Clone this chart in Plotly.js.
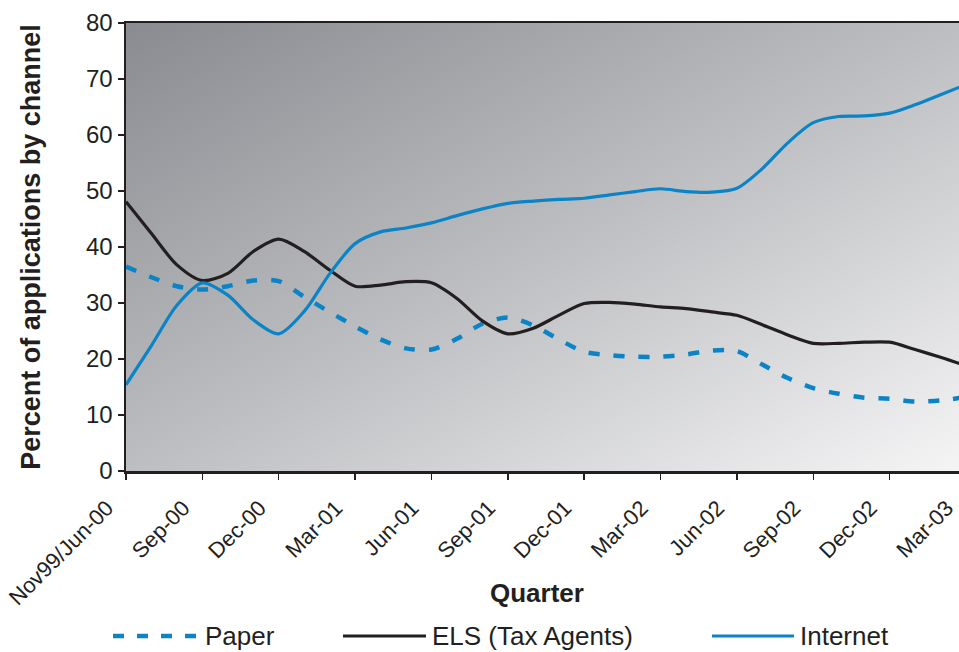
<!DOCTYPE html>
<html>
<head>
<meta charset="utf-8">
<script src="https://cdn.plot.ly/plotly-3.0.1.min.js"></script>
<style>
  html, body { margin: 0; padding: 0; overflow: hidden; background: #ffffff; }
  #chart { width: 968px; height: 652px; }
</style>
</head>
<body>
<div id="chart"></div>
<script>
// Months since Jun-00 (quarter ticks every 3 months)
const months = [0,1,2,3,4,5,6,7,8,9,10,11,12,13,14,15,16,17,18,19,20,21,22,23,24,25,26,27,28,29,30,31,32,33];

const quarterTickMonths = [0,3,6,9,12,15,18,21,24,27,30,33];
const quarterLabels = ["Nov99/Jun-00","Sep-00","Dec-00","Mar-01","Jun-01","Sep-01","Dec-01","Mar-02","Jun-02","Sep-02","Dec-02","Mar-03"];

const paper = [36.5,34.6,33.0,32.4,33.0,34.0,33.9,31.1,28.4,25.8,23.5,21.9,21.7,23.6,26.3,27.4,26.0,23.5,21.3,20.7,20.4,20.4,20.8,21.5,21.4,19.0,16.6,14.8,13.8,13.1,12.9,12.4,12.6,13.2];
const els = [48.1,42.4,36.8,34.0,35.3,39.2,41.4,39.2,35.9,33.0,33.2,33.8,33.6,30.8,26.8,24.5,25.5,27.8,29.9,30.1,29.8,29.3,29.0,28.4,27.8,26.1,24.3,22.8,22.8,23.0,23.0,21.7,20.3,18.8];
const internet = [15.4,22.4,29.6,33.6,31.4,27.0,24.5,28.5,35.2,40.6,42.7,43.4,44.3,45.6,46.8,47.8,48.2,48.5,48.7,49.3,49.9,50.4,49.9,49.8,50.5,54.0,58.6,62.2,63.3,63.4,63.9,65.4,67.2,69.0];

const seriesNames = ["Paper","ELS (Tax Agents)","Internet"];
const xTitle = "Quarter";
const yTitle = "Percent of applications by channel";

const BLUE = "#0a84c6";
const DARK = "#231f20";
const FONT = "Liberation Sans, Arial, Helvetica, sans-serif";

const traces = [
  {x: months, y: paper, name: seriesNames[0], type: "scatter", mode: "lines",
   line: {color: BLUE, width: 4.5, dash: "11px,14px", shape: "spline", smoothing: 0.8}, showlegend: false},
  {x: months, y: els, name: seriesNames[1], type: "scatter", mode: "lines",
   line: {color: DARK, width: 3.2, shape: "spline", smoothing: 0.8}, showlegend: false},
  {x: months, y: internet, name: seriesNames[2], type: "scatter", mode: "lines",
   line: {color: BLUE, width: 3.2, shape: "spline", smoothing: 0.8}, showlegend: false}
];

const gradSvg = "<svg xmlns='http://www.w3.org/2000/svg' width='200' height='200' preserveAspectRatio='none' viewBox='0 0 200 200'>" +
  "<defs><linearGradient id='g' x1='0' y1='0' x2='1' y2='1'>" +
  "<stop offset='0' stop-color='#8a8b90'/><stop offset='0.5' stop-color='#bdbec1'/><stop offset='1' stop-color='#f5f5f6'/>" +
  "</linearGradient></defs><rect width='200' height='200' fill='url(#g)'/></svg>";

// legend geometry (page pixels -> paper coords)
const L = 126, PW = 840, TOPY = 23, PH = 448;
const px = v => (v - L) / PW;
const py = v => (TOPY + PH - v) / PH;
const legY = 636;

const legendShapes = [
  {type: "line", xref: "paper", yref: "paper", x0: px(113), x1: px(199), y0: py(legY), y1: py(legY),
   line: {color: BLUE, width: 4.5, dash: "11px,13px"}},
  {type: "line", xref: "paper", yref: "paper", x0: px(343), x1: px(426), y0: py(legY), y1: py(legY),
   line: {color: DARK, width: 3.2}},
  {type: "line", xref: "paper", yref: "paper", x0: px(712), x1: px(794), y0: py(legY), y1: py(legY),
   line: {color: BLUE, width: 3.2}}
];
const legendAnn = [
  {text: seriesNames[0], x: px(203), y: py(legY)},
  {text: seriesNames[1], x: px(430), y: py(legY)},
  {text: seriesNames[2], x: px(798), y: py(legY)}
].map(a => Object.assign(a, {xref: "paper", yref: "paper", xanchor: "left", yanchor: "middle",
  showarrow: false, font: {family: FONT, size: 26, color: DARK}}));

const titleAnn = {text: "<b>" + xTitle + "</b>", xref: "paper", yref: "paper", x: px(537), y: py(593),
  xanchor: "center", yanchor: "middle", showarrow: false, font: {family: FONT, size: 26, color: DARK}};

const layout = {
  width: 968, height: 652,
  margin: {l: 126, r: 2, t: 23, b: 181, pad: 0},
  paper_bgcolor: "#ffffff",
  plot_bgcolor: "rgba(0,0,0,0)",
  font: {family: FONT, color: DARK},
  showlegend: false,
  images: [{source: "data:image/svg+xml;base64," + btoa(gradSvg), xref: "paper", yref: "paper",
    x: 0, y: 1, sizex: 1, sizey: 1, sizing: "stretch", xanchor: "left", yanchor: "top", layer: "below"}],
  xaxis: {
    range: [0, 33.001], tickmode: "array", tickvals: quarterTickMonths, ticktext: quarterLabels,
    tickangle: -45, tickfont: {family: FONT, size: 22, color: DARK},
    ticklabelstandoff: 7, ticklabelshift: -19, ticklabeloverflow: "allow",
    ticks: "outside", ticklen: 6, tickwidth: 1.5, tickcolor: DARK,
    showline: true, linecolor: DARK, linewidth: 2.5, mirror: true,
    showgrid: false, zeroline: false, fixedrange: true
  },
  yaxis: {
    range: [0, 80], tickmode: "array", tickvals: [0,10,20,30,40,50,60,70,80],
    tickfont: {family: FONT, size: 24, color: DARK},
    ticks: "outside", ticklen: 6, tickwidth: 1.5, tickcolor: DARK,
    showline: true, linecolor: DARK, linewidth: 2.5,
    showgrid: false, zeroline: false, fixedrange: true,
    title: {text: "<b>" + yTitle + "</b>", font: {family: FONT, size: 27, color: DARK}, standoff: 38}
  },
  shapes: legendShapes,
  annotations: legendAnn.concat([titleAnn])
};

Plotly.newPlot("chart", traces, layout, {staticPlot: true, displayModeBar: false});
</script>
</body>
</html>
